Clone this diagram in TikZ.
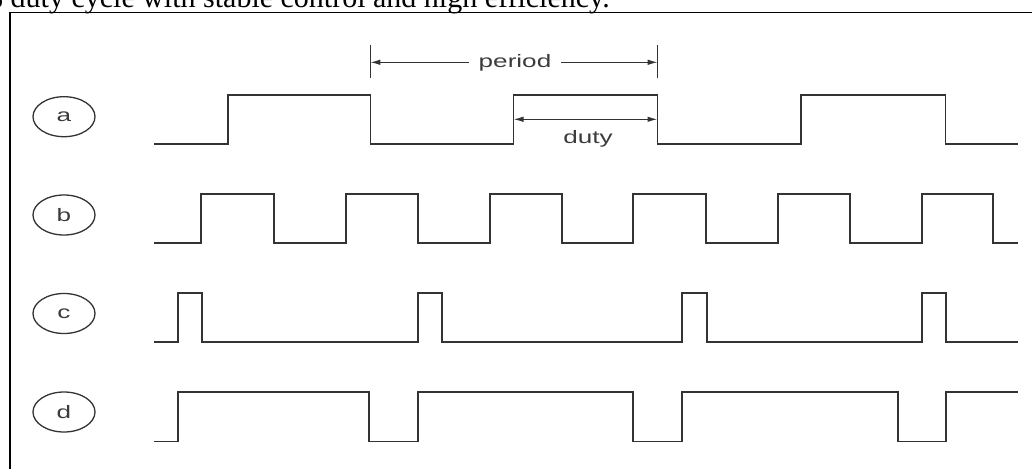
\documentclass[tikz,border=0pt]{standalone}
\usepackage{fontspec}
\setmainfont{Liberation Serif}
\newfontfamily\lblfont{Liberation Sans}
\usepackage{graphicx}
\usetikzlibrary{shapes.geometric,arrows.meta}
\definecolor{wave}{HTML}{333333}
\definecolor{lbl}{HTML}{3C3C3C}
\tikzset{
  sig/.style={draw=wave,line width=1.9pt},
  tick/.style={draw=wave,line width=1.4pt},
  dim/.style={draw=wave,line width=1.2pt,-{Latex[length=10pt,width=5.5pt]}},
  tag/.style={ellipse,draw=wave,line width=1.3pt,minimum width=62pt,minimum height=40pt,inner sep=0pt,
    font=\lblfont\fontsize{18}{21}\selectfont,text=lbl},
  word/.style={inner sep=0pt,font=\lblfont\fontsize{18}{21}\selectfont,text=lbl},
}
\newcommand{\wide}[1]{\scalebox{1.45}[1]{#1}}
\begin{document}
\begin{tikzpicture}[x=1pt,y=-1pt]
\useasboundingbox (0,0) rectangle (1032,468);
\clip (0,0) rectangle (1032,468);
% caption fragment
\node[anchor=base west,inner sep=0pt,font=\fontsize{30}{36}\selectfont] (cap) at (-22,8) {\% duty cycle with stable control and high efficiency.};
% frame
\draw[line width=1.5pt] (10,470) -- (10,12.7) -- (1034,12.7);
% labels
\node[tag] (la) at (64,116.7) {\wide{a}};
\node[tag] (lb) at (64,215) {\wide{b}};
\node[tag] (lc) at (64,313.5) {\wide{c}};
\node[tag] (ld) at (64,412) {\wide{d}};
% waveform a
\draw[sig] (154,144.3) -| (228,95) -| (370.5,144.3) -| (513.5,95) -| (657.5,144.3) -| (801,95) -| (945.5,144.3) -- (1018,144.3);
% waveform b
\draw[sig] (154,243) -| (201,194) -| (274.3,243) -| (345.7,194) -| (418.3,243) -| (490,194) -| (562.3,243) -| (633.3,194) -| (705.7,243) -| (777.7,194) -| (850,243) -| (921.7,194) -| (993.3,243) -- (1018,243);
% waveform c
\draw[sig] (154,341.7) -| (177.7,292.7) -| (201.7,341.7) -| (417.7,292.7) -| (442.3,341.7) -| (681.7,292.7) -| (706.7,341.7) -| (921.7,292.7) -| (945.7,341.7) -- (1018,341.7);
% waveform d
\draw[sig] (154,441.5) -| (177.7,391.7) -| (369.3,441.5) -| (417.7,391.7) -| (633.3,441.5) -| (681.7,391.7) -| (898.3,441.5) -| (945.7,391.7) -- (1018,391.7);
% period dimension
\coordinate (pt1) at (370.3,45);
\coordinate (pb1) at (370.3,78);
\coordinate (pt2) at (657.7,45);
\coordinate (pb2) at (657.7,78);
\draw[tick] (pt1) -- (pb1);
\draw[tick] (pt2) -- (pb2);
\node[word,anchor=base] (per) at (515,68) {\wide{period}};
\coordinate (pl) at (370.3,62.3);
\coordinate (pr) at (657.7,62.3);
\draw[dim] (per.west |- pl) ++(-10,0) coordinate (pw) (pw) -- (pl);
\draw[dim] (per.east |- pr) ++(10,0) coordinate (pe) (pe) -- (pr);
% duty dimension
\coordinate (dl) at (513.5,119.3);
\coordinate (dr) at (657.5,119.3);
\coordinate (dm) at (585.5,119.3);
\draw[dim] (dm) -- (dl);
\draw[dim] (dm) -- (dr);
\node[word,anchor=base] (dut) at (588,143) {\wide{duty}};
\end{tikzpicture}
\end{document}
